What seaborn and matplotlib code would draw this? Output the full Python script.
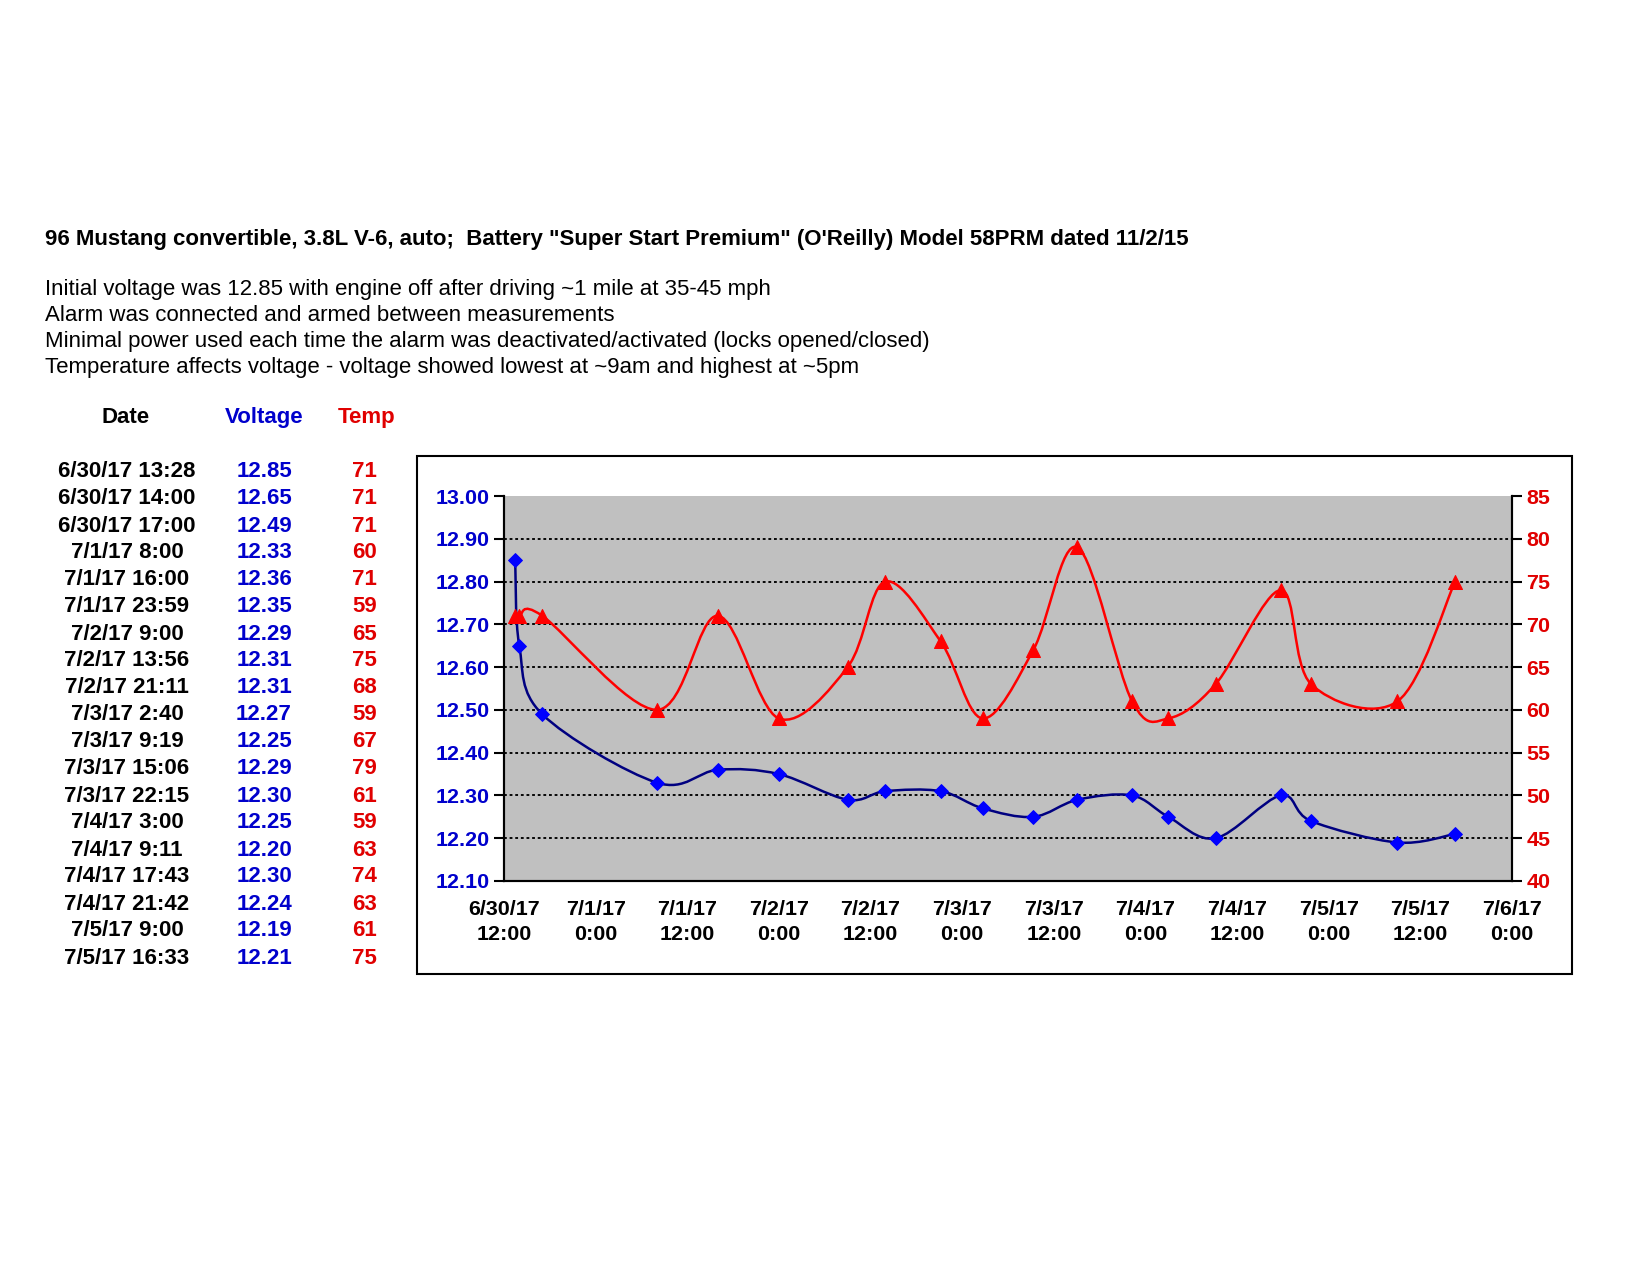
import matplotlib
matplotlib.use("Agg")
import matplotlib.pyplot as plt
import matplotlib.dates as mdates
from matplotlib.path import Path
from matplotlib.patches import PathPatch, Rectangle
from matplotlib.ticker import MultipleLocator, FuncFormatter
import numpy as np
import pandas as pd
import seaborn as sns

# ---- data ----
DATES = [
    "6/30/17 13:28", "6/30/17 14:00", "6/30/17 17:00", "7/1/17 8:00",
    "7/1/17 16:00", "7/1/17 23:59", "7/2/17 9:00", "7/2/17 13:56",
    "7/2/17 21:11", "7/3/17 2:40", "7/3/17 9:19", "7/3/17 15:06",
    "7/3/17 22:15", "7/4/17 3:00", "7/4/17 9:11", "7/4/17 17:43",
    "7/4/17 21:42", "7/5/17 9:00", "7/5/17 16:33",
]
VOLTAGE = [12.85, 12.65, 12.49, 12.33, 12.36, 12.35, 12.29, 12.31, 12.31, 12.27,
           12.25, 12.29, 12.30, 12.25, 12.20, 12.30, 12.24, 12.19, 12.21]
TEMP = [71, 71, 71, 60, 71, 59, 65, 75, 68, 59, 67, 79, 61, 59, 63, 74, 63, 61, 75]

TITLE = ("96 Mustang convertible, 3.8L V-6, auto;  Battery \"Super Start Premium\" "
         "(O'Reilly) Model 58PRM dated 11/2/15")
NOTES = [
    "Initial voltage was 12.85 with engine off after driving ~1 mile at 35-45 mph",
    "Alarm was connected and armed between measurements",
    "Minimal power used each time the alarm was deactivated/activated (locks opened/closed)",
    "Temperature affects voltage - voltage showed lowest at ~9am and highest at ~5pm",
]
X_START, X_END = "6/30/17 12:00", "7/6/17 0:00"

BLUE = "#0000CC"
NAVY = "#000080"
RED = "#E00000"

sns.set_style("white")
plt.rcParams["font.family"] = ["Liberation Sans", "DejaVu Sans"]
plt.rcParams["text.color"] = "black"

times = pd.to_datetime(DATES, format="%m/%d/%y %H:%M")
df = pd.DataFrame({"t": mdates.date2num(times), "voltage": VOLTAGE, "temp": TEMP})
x0, x1 = mdates.date2num(pd.to_datetime([X_START, X_END], format="%m/%d/%y %H:%M"))


def smooth_path(x, y):
    """Excel-style smoothed line: cubic Bezier with Catmull-Rom control points."""
    pts = np.column_stack([np.asarray(x, float), np.asarray(y, float)])
    verts = [pts[0]]
    codes = [Path.MOVETO]
    n = len(pts)
    for i in range(n - 1):
        p0 = pts[max(i - 1, 0)]
        p1 = pts[i]
        p2 = pts[i + 1]
        p3 = pts[min(i + 2, n - 1)]
        verts += [p1 + (p2 - p0) / 6, p2 - (p3 - p1) / 6, p2]
        codes += [Path.CURVE4] * 3
    return Path(verts, codes)


fig = plt.figure(figsize=(11, 8.5), dpi=150)

# header text
fig.text(0.027, 1 - 239 / 1275, TITLE, fontsize=10.7, fontweight="bold", va="center")
for i, line in enumerate(NOTES):
    fig.text(0.027, 1 - (290 + i * 25.8) / 1275, line, fontsize=10.7, va="center")

# data table on the left
hdr_y = 1 - 417 / 1275
fig.text(0.076, hdr_y, "Date", fontsize=10.7, fontweight="bold", ha="center", va="center")
fig.text(0.160, hdr_y, "Voltage", fontsize=10.7, fontweight="bold", ha="center", va="center", color=BLUE)
fig.text(0.222, hdr_y, "Temp", fontsize=10.7, fontweight="bold", ha="center", va="center", color=RED)
for i, (d, v, t) in enumerate(zip(DATES, VOLTAGE, TEMP)):
    y = 1 - (472 + i * 27.0) / 1275
    fig.text(0.077, y, d, fontsize=10.7, fontweight="bold", ha="center", va="center")
    fig.text(0.160, y, f"{v:.2f}", fontsize=10.7, fontweight="bold", ha="center", va="center", color=BLUE)
    fig.text(0.221, y, f"{t}", fontsize=10.7, fontweight="bold", ha="center", va="center", color=RED)

# chart frame
fig.patches.append(Rectangle((417 / 1650, 1 - 974 / 1275), (1572 - 417) / 1650, (974 - 456) / 1275,
                             transform=fig.transFigure, facecolor="none", edgecolor="black", lw=1.0))

ax = fig.add_axes([504 / 1650, 1 - 881 / 1275, (1512 - 504) / 1650, (881 - 496) / 1275])
ax.set_facecolor("#C0C0C0")
ax2 = ax.twinx()

# voltage
ax.add_patch(PathPatch(smooth_path(df["t"], df["voltage"]), facecolor="none", edgecolor=NAVY, lw=1.2, zorder=3))
sns.scatterplot(data=df, x="t", y="voltage", ax=ax, marker="D", s=22, color="#0000FF",
                edgecolor="#0000FF", linewidth=0.5, zorder=4, legend=False)

# temperature
ax2.add_patch(PathPatch(smooth_path(df["t"], df["temp"]), facecolor="none", edgecolor="#FF0000", lw=1.2, zorder=3))
sns.scatterplot(data=df, x="t", y="temp", ax=ax2, marker="^", s=45, color="#FF0000",
                edgecolor="#FF0000", linewidth=0.5, zorder=4, legend=False)

ax.set_xlim(x0, x1)
ax.set_ylim(12.10, 13.00)
ax2.set_ylim(40, 85)
ax.xaxis.set_major_locator(MultipleLocator(0.5))


def date_fmt(val, pos):
    d = mdates.num2date(val)
    return f"{d.month}/{d.day}/{d:%y}\n{d.hour}:{d:%M}"


ax.xaxis.set_major_formatter(FuncFormatter(date_fmt))
ax.yaxis.set_major_locator(MultipleLocator(0.1))
ax.yaxis.set_major_formatter(FuncFormatter(lambda v, p: f"{v:.2f}"))
ax2.yaxis.set_major_locator(MultipleLocator(5))

for gv in np.arange(12.2, 12.95, 0.1):
    ax.axhline(gv, color="black", lw=0.9, ls=(0, (1.5, 1.5)), zorder=1)

ax.set_xlabel("")
ax.set_ylabel("")
ax2.set_ylabel("")

for a in (ax, ax2):
    a.spines["top"].set_visible(False)
    for s in ("left", "right", "bottom"):
        a.spines[s].set_color("black")
        a.spines[s].set_linewidth(1.0)

ax.tick_params(axis="x", direction="out", length=5, width=1, color="black", pad=4,
               labelsize=10.3, labelcolor="black")
ax.tick_params(axis="y", direction="out", length=5, width=1, color="black", pad=2,
               labelsize=10.3, labelcolor=BLUE)
ax2.tick_params(axis="y", direction="out", length=5, width=1, color="black", pad=2,
                labelsize=10.3, labelcolor=RED)
for lbl in ax.get_xticklabels():
    lbl.set_fontweight("bold")
    lbl.set_linespacing(1.45)
for lbl in ax.get_yticklabels() + ax2.get_yticklabels():
    lbl.set_fontweight("bold")

fig.savefig("out.png", dpi=150, facecolor="white")
